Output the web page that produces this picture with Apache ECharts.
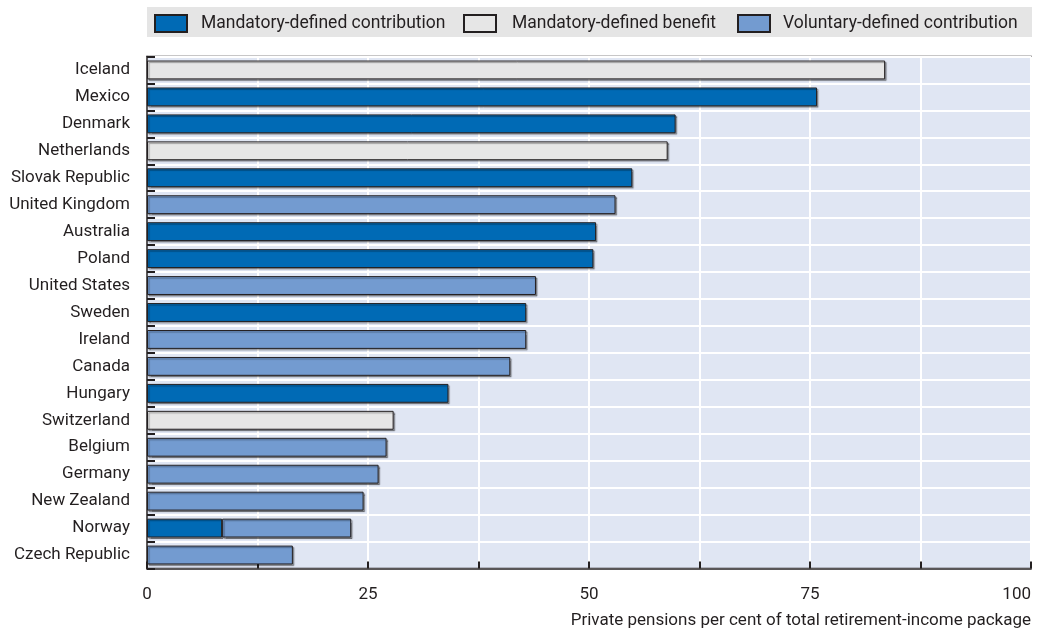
<!DOCTYPE html>
<html>
<head>
<meta charset="utf-8">
<script src="https://cdn.jsdelivr.net/npm/echarts@6/dist/echarts.min.js"></script>
<style>
html,body{margin:0;padding:0;background:#fff;}
#chart{width:1037px;height:631px;}
</style>
</head>
<body>
<div id="chart"></div>
<script>
const countries = ["Iceland","Mexico","Denmark","Netherlands","Slovak Republic","United Kingdom","Australia","Poland","United States","Sweden","Ireland","Canada","Hungary","Switzerland","Belgium","Germany","New Zealand","Norway","Czech Republic"];
const mandatoryDC = [null,75.8,59.8,null,54.9,null,50.8,50.5,null,42.9,null,null,34.1,null,null,null,null,8.5,null];
const mandatoryDB = [83.5,null,null,58.9,null,null,null,null,null,null,null,null,null,27.9,null,null,null,null,null];
const voluntaryDC = [null,null,null,null,null,53.0,null,null,44.0,null,42.9,41.1,null,null,27.1,26.2,24.5,14.6,16.5];
const seriesNames = ["Mandatory-defined contribution","Mandatory-defined benefit","Voluntary-defined contribution"];
const xTickLabels = [0,25,50,75,100];
const axisTitle = "Private pensions per cent of total retirement-income package";

const FONT = 'Roboto, "Liberation Sans", sans-serif';
const TXT = '#231f20';
const chart = echarts.init(document.getElementById('chart'), null, {renderer:'canvas'});

function barStyle(color){
  return {
    color: color,
    borderColor: '#231f20',
    borderWidth: 1,
    shadowColor: 'rgba(0,0,0,0.35)',
    shadowOffsetX: 1.5,
    shadowOffsetY: 1.5,
    shadowBlur: 1
  };
}

function legendAt(left, name, pad){
  return {
    left: left, top: 9,
    itemWidth: 32, itemHeight: 17,
    icon: 'rect',
    textStyle: {fontFamily: FONT, fontSize: 17.5, color: TXT, padding: [0,0,0,pad]},
    data: [name]
  };
}

chart.setOption({
  animation: false,
  textStyle: {fontFamily: FONT, color: TXT},
  graphic: [{
    type: 'rect', z: 0,
    shape: {x: 147, y: 7, width: 885, height: 30},
    style: {fill: '#e5e5e5'}
  }],
  legend: [
    legendAt(149, seriesNames[0], 9),
    legendAt(458, seriesNames[1], 11),
    legendAt(732, seriesNames[2], 8)
  ],
  grid: {
    left: 147, right: 6, top: 56.5, bottom: 62.5,
    show: true, backgroundColor: '#e0e6f3',
    borderColor: '#231f20', borderWidth: 1.5,
    containLabel: false,
    outerBoundsMode: 'none'
  },
  xAxis: {
    type: 'value', min: 0, max: 100, interval: 12.5,
    axisLine: {show: true, lineStyle: {color: '#231f20', width: 1.5}},
    axisTick: {show: true, inside: true, length: 7, lineStyle: {color: '#231f20', width: 2}},
    splitLine: {show: true, lineStyle: {color: '#ffffff', width: 2}},
    axisLabel: {
      margin: 18, fontSize: 17, color: TXT, fontFamily: FONT,
      alignMaxLabel: 'right',
      formatter: function(v){ return xTickLabels.indexOf(v) >= 0 ? String(v) : ''; }
    },
    name: axisTitle,
    nameLocation: 'end', nameGap: 0,
    nameTextStyle: {fontSize: 17, color: TXT, fontFamily: FONT, align: 'right', verticalAlign: 'top', padding: [44, 0, 0, 0]}
  },
  yAxis: {
    type: 'category', data: countries, inverse: true,
    axisLine: {show: true, lineStyle: {color: '#231f20', width: 1.5}},
    axisTick: {show: true, inside: true, length: 8, lineStyle: {color: '#231f20', width: 2}},
    splitLine: {show: true, lineStyle: {color: '#ffffff', width: 2}},
    axisLabel: {margin: 17, fontSize: 17, color: TXT, fontFamily: FONT, padding: [5,0,0,0]}
  },
  series: [
    {name: seriesNames[0], type: 'bar', stack: 'total', data: mandatoryDC, barCategoryGap: '30%', itemStyle: barStyle('#006ab5')},
    {name: seriesNames[1], type: 'bar', stack: 'total', data: mandatoryDB, barCategoryGap: '30%', itemStyle: barStyle('#e6e6e6')},
    {name: seriesNames[2], type: 'bar', stack: 'total', data: voluntaryDC, barCategoryGap: '30%', itemStyle: barStyle('#739bd0')}
  ]
});
</script>
</body>
</html>
